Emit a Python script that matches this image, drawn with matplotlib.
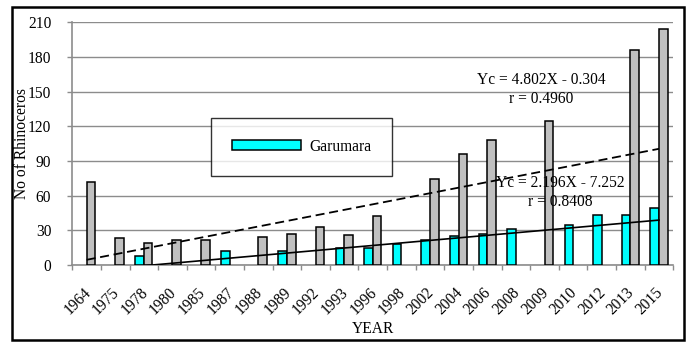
import matplotlib
matplotlib.use("Agg")
import matplotlib.pyplot as plt
from matplotlib.patches import Rectangle
from matplotlib.transforms import ScaledTranslation
import numpy as np

plt.rcParams['font.family'] = ['Liberation Serif', 'DejaVu Serif']

years = ["1964", "1975", "1978", "1980", "1985", "1987", "1988", "1989", "1992", "1993",
         "1996", "1998", "2002", "2004", "2006", "2008", "2009", "2010", "2012", "2013", "2015"]
# Garumara counts (cyan); None where no count was recorded
garumara = [None, None, 8, None, None, 12, None, 12, None, 15,
            15, 18, 22, 25, 27, 31, None, 35, 43, 43, 49]
# Second series (grey)
other = [72, 23, 19, 22, 22, None, 24, 27, 33, 26,
         42, None, 74, 96, 108, None, 125, None, None, 186, 204]

# Linear trends: Yc = slope * X + intercept, with X = 1..n
trend_other = (4.802, -0.304, "0.4960")
trend_garumara = (2.196, -7.252, "0.8408")

yticks = [0, 30, 60, 90, 120, 150, 180, 210]

FS = 11.2

fig = plt.figure(figsize=(6.9, 3.43), dpi=100)
ax = fig.add_axes([0.1048, 0.2274, 0.8710, 0.7076])

n = len(years)
x = np.arange(n)
w = 0.3

gx = [i for i, v in enumerate(garumara) if v is not None]
gv = [v for v in garumara if v is not None]
ox = [i for i, v in enumerate(other) if v is not None]
ov = [v for v in other if v is not None]

ax.bar(np.array(gx) - w / 2, gv, width=w, color="#00FFFF", edgecolor="black",
       linewidth=1.1, label="Garumara", zorder=3)
ax.bar(np.array(ox) + w / 2, ov, width=w, color="#C0C0C0", edgecolor="black",
       linewidth=1.1, zorder=3)

X = x + 1
s, b, _ = trend_other
ax.plot(x, s * X + b, color="black", linestyle=(0, (5, 2.6)), linewidth=1.3, zorder=4)
s, b, _ = trend_garumara
ax.plot(x, s * X + b, color="black", linestyle="-", linewidth=1.2, zorder=4)

def eq_text(tr):
    s, b, r = tr
    sign = "-" if b < 0 else "+"
    return f"Yc = {s:.3f}X {sign} {abs(b):.3f}", f"r = {r}"

l1, l2 = eq_text(trend_other)
ax.text(15.88, 160, l1, ha="center", va="center", fontsize=FS, zorder=5)
ax.text(15.88, 143.5, l2, ha="center", va="center", fontsize=FS, zorder=5)
l1, l2 = eq_text(trend_garumara)
ax.text(16.54, 71, l1, ha="center", va="center", fontsize=FS, zorder=5)
ax.text(16.54, 54.7, l2, ha="center", va="center", fontsize=FS, zorder=5)

ax.set_xlim(-0.5, n - 0.5)
ax.set_ylim(0, 210)
ax.set_yticks(yticks)
ax.set_yticklabels([str(t) for t in yticks], fontsize=FS)
ax.yaxis.grid(True, color="#8c8c8c", linewidth=1.0, zorder=0)
ax.set_axisbelow(True)

ax.set_xticks(x)
ax.set_xticklabels(years, rotation=45, ha="right", rotation_mode="anchor", fontsize=FS)
ax.tick_params(axis="x", which="major", length=0, pad=14)
shift = ScaledTranslation(-4 / 100, 0, fig.dpi_scale_trans)
for lab in ax.get_xticklabels():
    lab.set_transform(lab.get_transform() + shift)
ax.set_xticks(np.arange(-0.5, n, 1.0), minor=True)
ax.tick_params(axis="x", which="minor", length=3.6, color="#8c8c8c", width=1)
ax.tick_params(axis="y", length=3.6, color="#8c8c8c", width=1, pad=11.5)

for side in ("top", "right"):
    ax.spines[side].set_visible(False)
for side in ("left", "bottom"):
    ax.spines[side].set_color("#8c8c8c")
    ax.spines[side].set_linewidth(1.2)

ax.set_ylabel("No of Rhinoceros", fontsize=FS)
ax.yaxis.set_label_coords(-0.07, 0.5)
fig.text(0.5405, 0.0408, "YEAR", ha="center", va="center", fontsize=FS)

leg = ax.legend(loc="center", bbox_to_anchor=(0.3817, 0.488), frameon=True,
                fancybox=False, borderpad=1.35, handlelength=4.45, handleheight=0.55,
                handletextpad=0.5, fontsize=FS)
leg.get_frame().set_edgecolor("black")
leg.get_frame().set_linewidth(1.0)
for h in leg.legend_handles:
    h.set_linewidth(1.1)

fig.patches.append(Rectangle((12 / 690, 1 - 340 / 343), 672 / 690, 333 / 343,
                             transform=fig.transFigure, fill=False,
                             edgecolor="black", linewidth=1.8))

fig.savefig("out.png", dpi=100)
